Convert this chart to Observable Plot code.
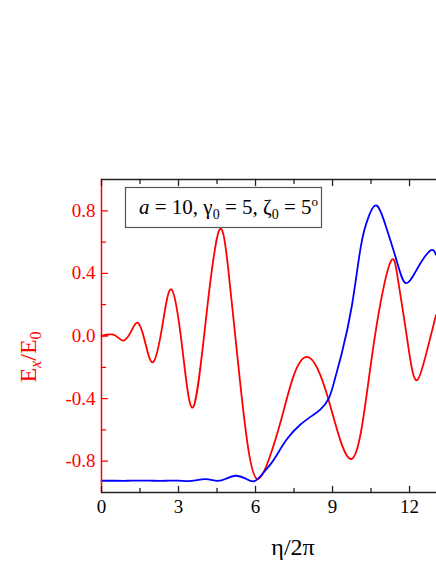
<!DOCTYPE html>
<html>
<head>
<meta charset="utf-8">
<script src="https://cdn.jsdelivr.net/npm/d3@7"></script>
<script src="https://cdn.jsdelivr.net/npm/@observablehq/plot@0.6"></script>
<style>
  html, body { margin: 0; padding: 0; background: #fff; }
  svg { display: block; }
</style>
</head>
<body>
<div id="chart"></div>
<script>
// Red curve: Ex/E0 vs eta/2pi
const etaRed = [0, 0.2, 0.42, 0.65, 0.87, 1.15, 1.42, 1.7, 2.01, 2.37, 2.73, 3.15, 3.57, 4.07, 4.57, 4.93, 5.3, 5.68, 6.06, 6.54, 7.02, 7.5, 7.98, 8.42, 8.85, 9.31, 9.75, 10.1, 10.41, 10.8, 11.28, 11.54, 11.8, 12.05, 12.31, 12.67, 13.03];
const exRed  = [0, 0.008, 0.01, -0.01, -0.029, 0.028, 0.084, -0.04, -0.167, 0.065, 0.297, -0.08, -0.455, 0.11, 0.67, 0.44, -0.14, -0.68, -0.913, -0.78, -0.523, -0.247, -0.133, -0.21, -0.41, -0.67, -0.785, -0.62, -0.278, 0.148, 0.48, 0.37, 0.1, -0.17, -0.28, -0.1, 0.133];

// Blue curve
const etaBlue = [0, 0.5, 1, 1.5, 2, 2.5, 3, 3.5, 4.05, 4.5, 4.85, 5.21, 5.6, 5.95, 6.3, 6.58, 6.83, 7.22, 7.74, 8.26, 8.52, 8.85, 9.1, 9.36, 9.75, 10.1, 10.4, 10.73, 11.1, 11.5, 11.85, 12.3, 12.8, 13.03];
const blueVals = [-0.925, -0.925, -0.925, -0.924, -0.925, -0.925, -0.924, -0.926, -0.915, -0.926, -0.912, -0.893, -0.91, -0.928, -0.875, -0.82, -0.76, -0.66, -0.567, -0.503, -0.47, -0.40, -0.27, -0.11, 0.19, 0.57, 0.76, 0.833, 0.69, 0.48, 0.338, 0.43, 0.545, 0.52];

// Ticks
const xTicks = [0, 3, 6, 9, 12];
const xMinorTicks = [1.5, 4.5, 7.5, 10.5];
const yTicks = [-0.8, -0.4, 0, 0.4, 0.8];
const yTickLabels = ["-0.8", "-0.4", "0.0", "0.4", "0.8"];
const yMinorTicks = [-0.6, -0.2, 0.2, 0.6];

const redData = etaRed.map((e, i) => ({eta: e, v: exRed[i]}));
const blueData = etaBlue.map((e, i) => ({eta: e, v: blueVals[i]}));

const tickShape = {draw(context, l) { context.moveTo(0, 0); context.lineTo(0, -l); }};
const RED = "#ff0000", BLUE = "#0000ff", INK = "#222";
const serif = "'Liberation Serif', 'Times New Roman', Times, serif";

const plot = Plot.plot({
  width: 436,
  height: 564,
  marginLeft: 101,
  marginRight: 0,
  marginTop: 179,
  marginBottom: 72,
  x: {domain: [0, 13.05]},
  y: {domain: [-1, 1]},
  style: {fontFamily: serif, fontSize: "19px", color: "#000", background: "#fff", overflow: "visible"},
  marks: [
    Plot.line(redData, {x: "eta", y: "v", stroke: RED, strokeWidth: 1.8, curve: "natural"}),
    Plot.line(blueData, {x: "eta", y: "v", stroke: BLUE, strokeWidth: 1.8, curve: "natural"}),
    // frame lines
    Plot.ruleY([1], {stroke: INK, strokeWidth: 1.4}),
    Plot.ruleY([-1], {stroke: INK, strokeWidth: 1.4}),
    Plot.ruleX([0], {stroke: RED, strokeWidth: 1.5}),
    // inward ticks, bottom
    Plot.vector(xTicks, {x: d => d, frameAnchor: "bottom", rotate: 0, length: 6, anchor: "start", shape: tickShape, stroke: INK, strokeWidth: 1.3}),
    Plot.vector(xMinorTicks, {x: d => d, frameAnchor: "bottom", rotate: 0, length: 4, anchor: "start", shape: tickShape, stroke: INK, strokeWidth: 1.3}),
    // inward ticks, top
    Plot.vector(xTicks, {x: d => d, frameAnchor: "top", rotate: 180, length: 6, anchor: "start", shape: tickShape, stroke: INK, strokeWidth: 1.3}),
    Plot.vector(xMinorTicks, {x: d => d, frameAnchor: "top", rotate: 180, length: 4, anchor: "start", shape: tickShape, stroke: INK, strokeWidth: 1.3}),
    // inward ticks, left (red)
    Plot.vector(yTicks, {y: d => d, frameAnchor: "left", rotate: 90, length: 6, anchor: "start", shape: tickShape, stroke: RED, strokeWidth: 1.3}),
    Plot.vector(yMinorTicks, {y: d => d, frameAnchor: "left", rotate: 90, length: 4, anchor: "start", shape: tickShape, stroke: RED, strokeWidth: 1.3}),
    // tick labels
    Plot.axisX(xTicks, {tickSize: 0, tickPadding: 7, label: null, fill: "#000", fontSize: 19, tickFormat: d => String(d)}),
    Plot.axisY(yTicks, {tickSize: 0, tickPadding: 6, label: null, fill: RED, fontSize: 19, tickFormat: d => yTickLabels[yTicks.indexOf(d)]})
  ]
});

document.getElementById("chart").appendChild(plot);

const svg = d3.select(plot);

// Legend box
const lg = svg.append("g");
lg.append("rect")
  .attr("x", 125.5).attr("y", 187.5).attr("width", 196).attr("height", 40)
  .attr("fill", "#fff").attr("stroke", "#555").attr("stroke-width", 1.2);
const lt = lg.append("text")
  .attr("x", 139).attr("y", 214)
  .attr("text-anchor", "start")
  .attr("font-family", serif).attr("font-size", 21).attr("fill", "#000");
lt.append("tspan").attr("font-style", "italic").text("a");
lt.append("tspan").text(" = 10, \u03B3");
lt.append("tspan").attr("font-size", 14).attr("dy", 5).text("0");
lt.append("tspan").attr("dy", -5).text(" = 5, \u03B6");
lt.append("tspan").attr("font-size", 14).attr("dy", 5).text("0");
lt.append("tspan").attr("dy", -5).text(" = 5");
lt.append("tspan").attr("font-size", 13).attr("dy", -8).text("o");

// Y axis label
const yl = svg.append("text")
  .attr("transform", "translate(36,357) rotate(-90)")
  .attr("text-anchor", "middle")
  .attr("font-family", serif).attr("font-size", 24).attr("fill", RED);
yl.append("tspan").text("E");
yl.append("tspan").attr("font-size", 16).attr("font-style", "italic").attr("dy", 5).text("x");
yl.append("tspan").attr("dy", -5).text("/E");
yl.append("tspan").attr("font-size", 16).attr("dy", 5).text("0");

// X axis label
svg.append("text")
  .attr("x", 293).attr("y", 555)
  .attr("text-anchor", "middle")
  .attr("font-family", serif).attr("font-size", 24).attr("fill", "#000")
  .text("\u03B7/2\u03C0");
</script>
</body>
</html>
